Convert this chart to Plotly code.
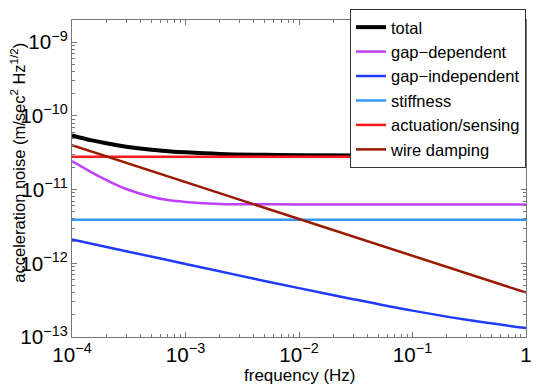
import plotly.graph_objects as go

# acceleration noise budget (m/s^2/Hz^1/2)
f_grid = [1e-4, 1.5e-4, 2e-4, 3e-4, 5e-4, 7e-4, 1e-3, 2e-3, 5e-3, 1e-2, 1e-1, 1.0]
total = [5.45e-11, 4.65e-11, 4.25e-11, 3.82e-11, 3.47e-11, 3.32e-11, 3.2e-11,
         3.04e-11, 2.96e-11, 2.93e-11, 2.9e-11, 2.9e-11]
gap_dep = [2.43e-11, 1.7e-11, 1.35e-11, 1.02e-11, 8.0e-12, 7.2e-12, 6.8e-12,
           6.4e-12, 6.32e-12, 6.3e-12, 6.3e-12, 6.3e-12]

f_blue = [1e-4, 3e-4, 1e-3, 3e-3, 1e-2, 3e-2, 1e-1, 3e-1, 1.0]
gap_indep = [2.1e-12, 1.46e-12, 9.8e-13, 6.8e-13, 4.6e-13, 3.26e-13, 2.28e-13, 1.71e-13, 1.32e-13]

f_ends = [1e-4, 1.0]
stiffness = [3.9e-12, 3.9e-12]
actuation = [2.8e-11, 2.8e-11]
wire_damping = [4e-11, 4e-13]

font = "Liberation Sans, Arial, sans-serif"

fig = go.Figure()
fig.add_trace(go.Scatter(x=f_grid, y=total, name="total", mode="lines",
                         line=dict(color="black", width=4, shape="spline")))
fig.add_trace(go.Scatter(x=f_grid, y=gap_dep, name="gap\u2212dependent", mode="lines",
                         line=dict(color="#bf40ff", width=2.5, shape="spline")))
fig.add_trace(go.Scatter(x=f_blue, y=gap_indep, name="gap\u2212independent", mode="lines",
                         line=dict(color="#1f3bff", width=2.5, shape="spline")))
fig.add_trace(go.Scatter(x=f_ends, y=stiffness, name="stiffness", mode="lines",
                         line=dict(color="#3399ff", width=2.5)))
fig.add_trace(go.Scatter(x=f_ends, y=actuation, name="actuation/sensing", mode="lines",
                         line=dict(color="#ff1a1a", width=2.5)))
fig.add_trace(go.Scatter(x=f_ends, y=wire_damping, name="wire damping", mode="lines",
                         line=dict(color="#991a00", width=2.5)))

axis_common = dict(
    type="log", showgrid=False, zeroline=False, showline=True, linecolor="#777777",
    linewidth=1, mirror="ticks", ticks="inside", ticklen=5, tickcolor="#777777",
    exponentformat="power", dtick=1, tickfont=dict(size=16.5, color="black"),
    minor=dict(ticks="inside", ticklen=3, tickcolor="#777777", dtick="D1", showgrid=False),
)

# page body has an 8px margin, so the figure is sized to fill the rest of the window
fig.update_layout(
    width=537, height=379,
    margin=dict(l=64, r=19, t=12, b=50, autoexpand=False),
    paper_bgcolor="white", plot_bgcolor="white",
    font=dict(family=font, size=17, color="black"),
    xaxis=dict(axis_common, range=[-4, 0]),
    yaxis=dict(axis_common, range=[-13, -8.699]),
    legend=dict(x=1, xanchor="right", y=1.035, yanchor="top",
                bordercolor="#333333", borderwidth=1, bgcolor="white",
                font=dict(size=16.5), tracegroupgap=0, itemwidth=30),
    showlegend=True,
)

# axis titles as annotations so they sit where the reference has them
fig.add_annotation(text="frequency (Hz)", xref="paper", yref="paper", x=0.5, y=0,
                   yanchor="middle", yshift=-38, showarrow=False,
                   font=dict(size=17, family=font, color="black"))
fig.add_annotation(text="acceleration noise (m/sec<sup>2</sup> Hz<sup>1/2</sup>)",
                   xref="paper", yref="paper", x=0, y=0.55, textangle=-90,
                   xanchor="center", yanchor="middle", xshift=-54, showarrow=False,
                   font=dict(size=16.5, family=font, color="black"))

fig.write_html("out.html")
